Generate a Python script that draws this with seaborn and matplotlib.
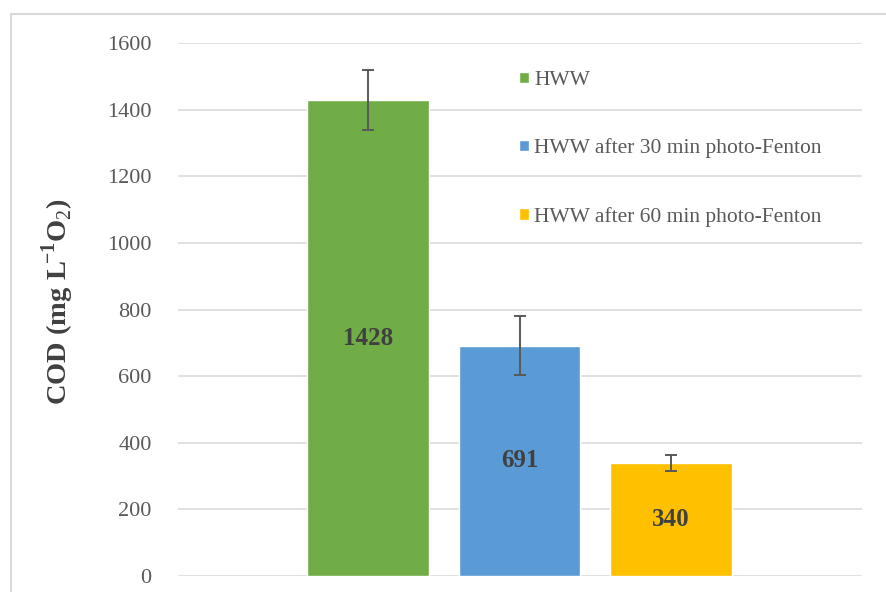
import pandas as pd
import seaborn as sns
import matplotlib.pyplot as plt
from matplotlib.patches import Rectangle

# chart values
samples = ["HWW", "HWW after 30 min photo-Fenton", "HWW after 60 min photo-Fenton"]
cod = [1428, 691, 340]
cod_err = [90, 88, 24]
bar_colors = ["#70AD47", "#5B9BD5", "#FFC000"]

df = pd.DataFrame({"Sample": samples, "COD": cod})

sns.set_style("white")
plt.rcParams["font.family"] = ["Liberation Serif", "DejaVu Serif"]
plt.rcParams["mathtext.fontset"] = "custom"
plt.rcParams["mathtext.rm"] = "Liberation Serif"
plt.rcParams["mathtext.bf"] = "Liberation Serif:bold"

fig = plt.figure(figsize=(8.86, 5.92), dpi=100)
ax = fig.add_axes([178 / 886, 1 - 576 / 592, 684 / 886, 533 / 592])

# light frame round the chart, like the Excel chart area
fig.patches.append(Rectangle((11 / 886, -0.1), 1.2, 1 - 14 / 592 + 0.1,
                             transform=fig.transFigure, fill=False,
                             edgecolor="#d9d9d9", linewidth=1.5, zorder=0))

sns.barplot(data=df, x="Sample", y="COD", hue="Sample", palette=bar_colors,
            saturation=1, dodge=False, width=0.8, errorbar=None, ax=ax,
            zorder=3)

# error bars and value labels from the bar patches
for patch, val, err in zip(ax.patches, cod, cod_err):
    xc = patch.get_x() + patch.get_width() / 2
    ax.errorbar(xc, val, yerr=err, color="#595959", capsize=4.5,
                elinewidth=1.4, capthick=1.4, zorder=4)
    ax.text(xc, val / 2, str(val), ha="center", va="center",
            fontsize=18, fontweight="bold", color="#404040", zorder=5)

ax.set_xlim(-1.254, 3.26)
ax.set_ylim(0, 1600)
ax.set_yticks(range(0, 1601, 200))
ax.yaxis.grid(True, color="#d9d9d9", linewidth=1.1)
ax.set_axisbelow(True)
for s in ax.spines.values():
    s.set_visible(False)
ax.set_xticks([])
ax.set(xlabel=None)
ax.tick_params(axis="y", length=0, pad=19, labelsize=16, labelcolor="#595959")

ax.set_ylabel(r"COD (mg L$^{\!\mathbf{-1}}$O$_{2}$)", fontsize=20.5,
              fontweight="bold", color="#404040")
ax.yaxis.set_label_coords(-0.149, 0.515)

leg = ax.legend(handles=list(ax.patches), labels=samples, loc="upper left",
                bbox_to_anchor=(519 / 886, 1 - 71 / 592),
                bbox_transform=fig.transFigure, frameon=False, fontsize=15.5,
                handlelength=0.45, handleheight=0.45, handletextpad=0.25,
                labelspacing=2.25, borderpad=0, borderaxespad=0)
for t in leg.get_texts():
    t.set_color("#595959")

plt.savefig("out.png", dpi=100)
